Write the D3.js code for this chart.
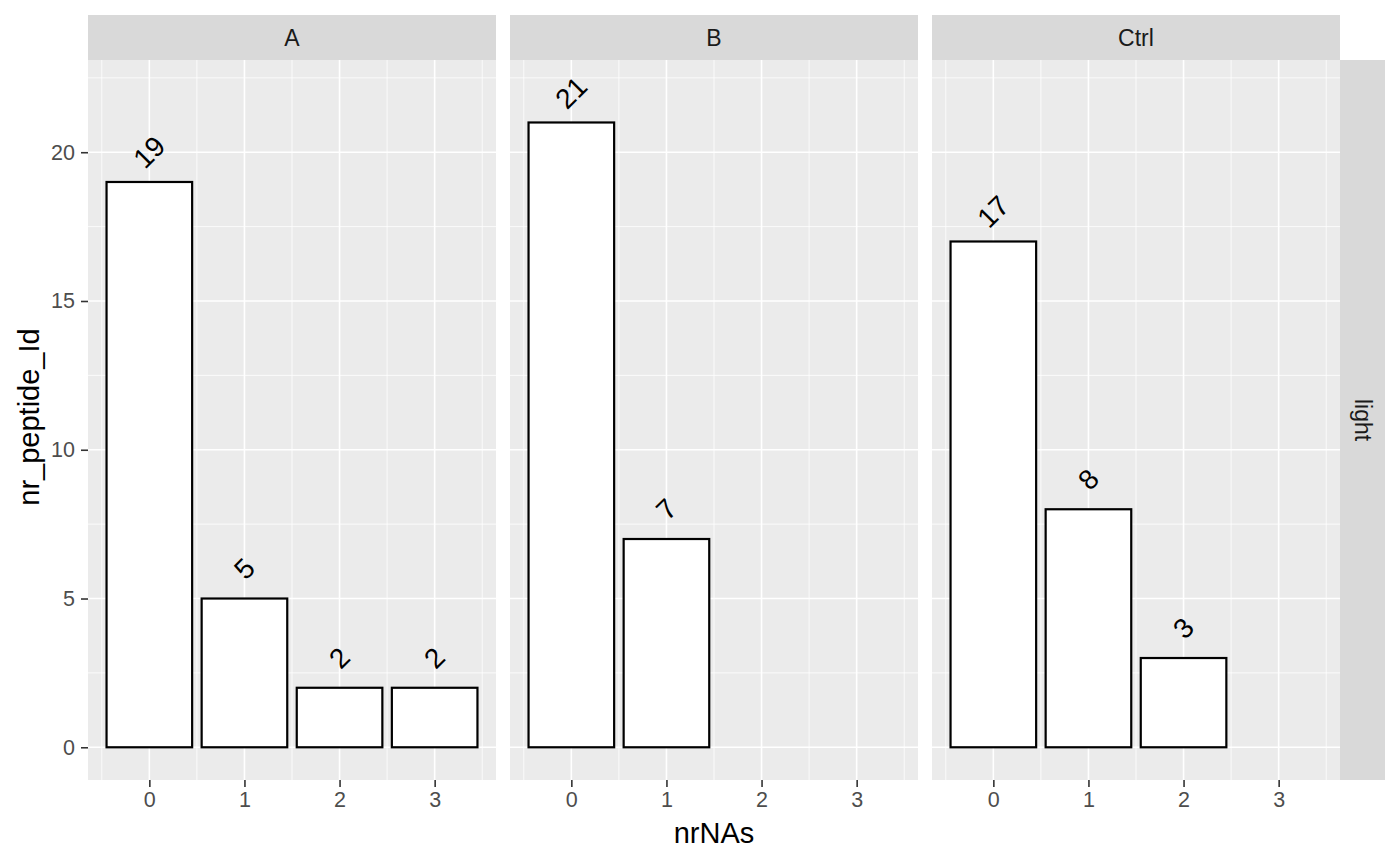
<!DOCTYPE html>
<html>
<head>
<meta charset="utf-8">
<script src="https://cdn.jsdelivr.net/npm/d3@7"></script>
<style>
  body { margin: 0; background: #fff; }
  svg text { font-family: "Liberation Sans", Arial, Helvetica, sans-serif; }
</style>
</head>
<body>
<svg id="chart" width="1400" height="865"></svg>
<script>
// ---- data ----
const panels = ["A", "B", "Ctrl"];
const rowStrip = "light";
const nrNAsA = [0, 1, 2, 3];
const countsA = [19, 5, 2, 2];
const nrNAsB = [0, 1];
const countsB = [21, 7];
const nrNAsCtrl = [0, 1, 2];
const countsCtrl = [17, 8, 3];
const xTicks = [0, 1, 2, 3];
const yTicks = [0, 5, 10, 15, 20];
const xTitle = "nrNAs";
const yTitle = "nr_peptide_Id";

const panelData = [
  { name: panels[0], x: nrNAsA, y: countsA },
  { name: panels[1], x: nrNAsB, y: countsB },
  { name: panels[2], x: nrNAsCtrl, y: countsCtrl }
];

// ---- layout ----
const svg = d3.select("#chart");
const panelLefts = [88, 510, 932];
const panelW = 408;
const pTop = 60, pBottom = 780;
const stripTop = 15;
const tickFont = 21.5, stripFont = 23, titleFont = 29, labelFont = 28;

const x = d3.scaleLinear().domain([-0.645, 3.645]).range([0, panelW]);
const y = d3.scaleLinear().domain([-1.1, 23.1]).range([pBottom, pTop]);

const yMinor = [2.5, 7.5, 12.5, 17.5, 22.5];
const xMinor = [-0.5, 0.5, 1.5, 2.5, 3.5];

panelData.forEach((p, i) => {
  const g = svg.append("g").attr("transform", `translate(${panelLefts[i]},0)`);
  g.append("rect").attr("x", 0).attr("y", pTop).attr("width", panelW).attr("height", pBottom - pTop).attr("fill", "#EBEBEB");
  g.selectAll(".ym").data(yMinor).enter().append("line")
    .attr("x1", 0).attr("x2", panelW).attr("y1", d => y(d)).attr("y2", d => y(d))
    .attr("stroke", "#fff").attr("stroke-width", 0.8);
  g.selectAll(".xm").data(xMinor).enter().append("line")
    .attr("y1", pTop).attr("y2", pBottom).attr("x1", d => x(d)).attr("x2", d => x(d))
    .attr("stroke", "#fff").attr("stroke-width", 0.8);
  g.selectAll(".yM").data(yTicks).enter().append("line")
    .attr("x1", 0).attr("x2", panelW).attr("y1", d => y(d)).attr("y2", d => y(d))
    .attr("stroke", "#fff").attr("stroke-width", 1.6);
  g.selectAll(".xM").data(xTicks).enter().append("line")
    .attr("y1", pTop).attr("y2", pBottom).attr("x1", d => x(d)).attr("x2", d => x(d))
    .attr("stroke", "#fff").attr("stroke-width", 1.6);
  const rows = p.x.map((v, k) => ({ x: v, y: p.y[k] }));
  g.selectAll(".bar").data(rows).enter().append("rect")
    .attr("x", d => x(d.x - 0.45))
    .attr("width", d => x(d.x + 0.45) - x(d.x - 0.45))
    .attr("y", d => y(d.y))
    .attr("height", d => y(0) - y(d.y))
    .attr("fill", "#fff").attr("stroke", "#000").attr("stroke-width", 2.2);
  g.selectAll(".lbl").data(rows).enter().append("text")
    .attr("transform", d => `translate(${x(d.x)},${y(d.y + 1)}) rotate(-45)`)
    .attr("text-anchor", "middle").attr("dominant-baseline", "central")
    .attr("font-size", labelFont).attr("fill", "#000")
    .text(d => d.y);
  g.append("rect").attr("x", 0).attr("y", stripTop).attr("width", panelW).attr("height", pTop - stripTop).attr("fill", "#D9D9D9");
  g.append("text").attr("x", panelW / 2).attr("y", (stripTop + pTop) / 2)
    .attr("text-anchor", "middle").attr("dominant-baseline", "central")
    .attr("font-size", stripFont).attr("fill", "#1A1A1A").text(p.name);
  const xa = g.append("g").attr("transform", `translate(0,${pBottom})`)
    .call(d3.axisBottom(x).tickValues(xTicks).tickFormat(d3.format("d")).tickSize(7).tickPadding(5));
  xa.select(".domain").remove();
  xa.selectAll(".tick line").attr("stroke", "#333").attr("stroke-width", 1.6);
  xa.selectAll(".tick text").attr("font-size", tickFont).attr("fill", "#4D4D4D")
    .attr("font-family", "Liberation Sans, Arial, sans-serif");
});

const ya = svg.append("g").attr("transform", `translate(${panelLefts[0]},0)`)
  .call(d3.axisLeft(y).tickValues(yTicks).tickSize(7).tickPadding(6));
ya.select(".domain").remove();
ya.selectAll(".tick line").attr("stroke", "#333").attr("stroke-width", 1.6);
ya.selectAll(".tick text").attr("font-size", tickFont).attr("fill", "#4D4D4D")
  .attr("font-family", "Liberation Sans, Arial, sans-serif");

const rsx = panelLefts[2] + panelW;
svg.append("rect").attr("x", rsx).attr("y", pTop).attr("width", 45).attr("height", pBottom - pTop).attr("fill", "#D9D9D9");
svg.append("text").attr("transform", `translate(${rsx + 22.5},${(pTop + pBottom) / 2}) rotate(90)`)
  .attr("text-anchor", "middle").attr("dominant-baseline", "central")
  .attr("font-size", stripFont).attr("fill", "#1A1A1A").text(rowStrip);

svg.append("text").attr("x", (panelLefts[0] + panelLefts[2] + panelW) / 2).attr("y", 843)
  .attr("text-anchor", "middle").attr("font-size", titleFont).attr("fill", "#000").text(xTitle);
svg.append("text").attr("transform", `translate(39,${(pTop + pBottom) / 2 - 3}) rotate(-90)`)
  .attr("text-anchor", "middle").attr("font-size", titleFont).attr("fill", "#000").text(yTitle);
</script>
</body>
</html>
